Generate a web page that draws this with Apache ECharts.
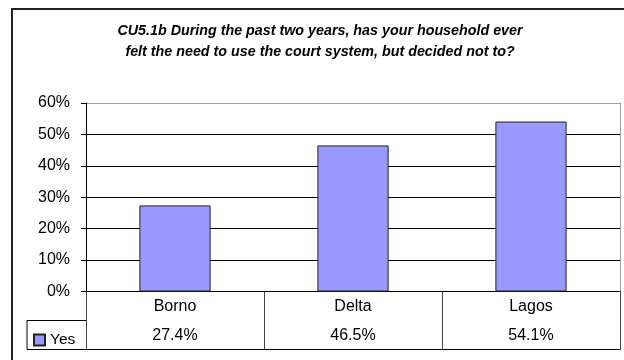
<!DOCTYPE html>
<html>
<head>
<meta charset="utf-8">
<script src="https://cdn.jsdelivr.net/npm/echarts@6/dist/echarts.min.js"></script>
<style>html,body{margin:0;padding:0;background:#fff;}#c{width:624px;height:360px;}</style>
</head>
<body>
<div id="c"></div>
<script>
const categories = ['Borno', 'Delta', 'Lagos'];
const seriesName = 'Yes';
const yesValues = [27.4, 46.5, 54.1];
const valueLabels = ['27.4%', '46.5%', '54.1%'];
const titleLines = ['CU5.1b During the past two years, has your household ever', 'felt the need to use the court system, but decided not to?'];

const FONT = '"Liberation Sans", Arial, sans-serif';
const chart = echarts.init(document.getElementById('c'), null, {renderer: 'canvas'});
const gridTop = 103, gridBottom = 360 - 291.5, gridLeft = 86, gridRight = 4;
const rowH = 29;

chart.setOption({
  animation: false,
  backgroundColor: '#fff',
  title: {
    text: titleLines.join('\n'),
    left: 320, top: 20.5, padding: 0, textAlign: 'center',
    textStyle: {fontFamily: FONT, fontSize: 14.3, fontWeight: 'bold', fontStyle: 'italic', color: '#000', lineHeight: 21}
  },
  legend: {
    data: [seriesName], left: 33, top: 332, padding: 0,
    itemWidth: 11, itemHeight: 11, icon: 'rect',
    textStyle: {fontFamily: FONT, fontSize: 15.5, color: '#000', padding: [0,0,0,0]}
  },
  grid: {left: gridLeft, right: gridRight, top: gridTop, bottom: gridBottom},
  xAxis: [
    {type: 'category', data: categories, position: 'bottom',
     axisLine: {lineStyle: {color: '#000', width: 1}},
     axisTick: {show: true, length: rowH * 2, interval: 0, lineStyle: {color: '#444'}},
     axisLabel: {margin: 7, fontFamily: FONT, fontSize: 16, color: '#000', interval: 0}},
    {type: 'category', data: categories, position: 'bottom', offset: rowH,
     axisLine: {lineStyle: {color: '#000', width: 1}},
     axisTick: {show: false},
     axisLabel: {margin: 7.5, fontFamily: FONT, fontSize: 16, color: '#000', interval: 0,
       formatter: (v, i) => valueLabels[i]}},
    {type: 'category', data: categories, position: 'bottom', offset: rowH * 2,
     axisLine: {lineStyle: {color: '#000', width: 1}},
     axisTick: {show: false}, axisLabel: {show: false}}
  ],
  yAxis: [
    {type: 'value', min: 0, max: 60, interval: 10,
     axisLine: {show: true, lineStyle: {color: '#000'}},
     axisTick: {show: true, length: 5, lineStyle: {color: '#000'}},
     axisLabel: {margin: 16, formatter: '{value}%', fontFamily: FONT, fontSize: 16, color: '#000'},
     splitLine: {show: true, lineStyle: {color: ['#000','#000','#000','#000','#000','#000','#a0a0a0'], width: 1}}},
    {type: 'value', min: 0, max: 60, interval: 10, position: 'right',
     axisLine: {show: true, lineStyle: {color: '#a0a0a0'}},
     axisTick: {show: false}, axisLabel: {show: false}, splitLine: {show: false}}
  ],
  series: [{
    name: seriesName, type: 'bar', data: yesValues, barWidth: '40%',
    xAxisIndex: 0, yAxisIndex: 0,
    itemStyle: {color: '#9999ff', borderColor: '#222', borderWidth: 1}
  }],
  graphic: [
    {type: 'rect', shape: {x: 12, y: 9, width: 640, height: 400}, style: {fill: null, stroke: '#222', lineWidth: 2}, z: 100},
    {type: 'polyline', shape: {points: [[86, 291.5 + rowH], [27, 291.5 + rowH], [27, 291.5 + rowH * 2], [86, 291.5 + rowH * 2]]}, style: {fill: null, stroke: '#000', lineWidth: 1}, z: 100}
  ]
});
</script>
</body>
</html>
